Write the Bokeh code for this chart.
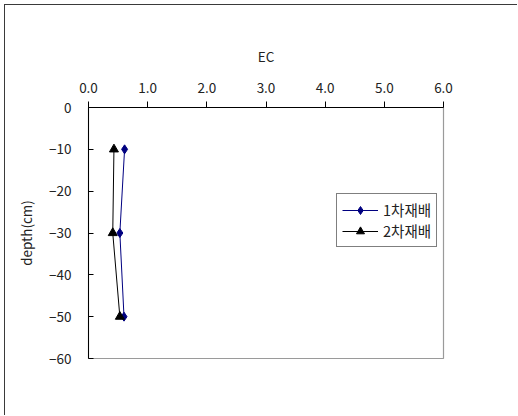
from bokeh.plotting import figure
from bokeh.models import (Range1d, FixedTicker, Legend, LegendItem, ColumnDataSource)
from bokeh.embed import file_html
from bokeh.resources import INLINE

# ---- data ----
depth = [-10, -30, -50]
ec_1 = [0.61, 0.53, 0.60]   # 1차재배
ec_2 = [0.43, 0.41, 0.53]   # 2차재배
series_names = ["1차재배", "2차재배"]
x_ticks = [0, 1, 2, 3, 4, 5, 6]
x_tick_labels = ["0.0", "1.0", "2.0", "3.0", "4.0", "5.0", "6.0"]
y_ticks = [0, -10, -20, -30, -40, -50, -60]
y_tick_labels = ["0", "\u221210", "\u221220", "\u221230", "\u221240", "\u221250", "\u221260"]
x_title = "EC"
y_title = "depth(cm)"

FONT = "Noto Sans CJK KR"

p = figure(width=513, height=411, output_backend="svg", toolbar_location=None,
           x_range=Range1d(0, 6), y_range=Range1d(-60, 0),
           x_axis_location="above",
           min_border_left=83, min_border_top=102, min_border_right=75,
           min_border_bottom=58)
p.margin = (4, 0, 0, 4)
p.styles = {"border-left": "1.5px solid #3a3a3a", "border-top": "1.5px solid #3a3a3a"}

p.grid.visible = False
p.outline_line_color = "#9a9a9a"
p.outline_line_width = 1.2
p.background_fill_color = "white"
p.border_fill_color = "white"

xa = p.xaxis[0]
xa.ticker = FixedTicker(ticks=x_ticks)
xa.major_label_overrides = {t: l for t, l in zip(x_ticks, x_tick_labels)}
xa.axis_label = x_title
xa.major_tick_out = 6
xa.major_tick_in = 0
xa.minor_tick_line_color = None
xa.axis_line_color = "black"
xa.major_tick_line_color = "black"
xa.major_label_standoff = 9
xa.axis_label_standoff = 14
xa.major_label_text_font = FONT
xa.major_label_text_font_size = "13.5px"
xa.major_label_text_color = "#222222"
xa.axis_label_text_font = FONT
xa.axis_label_text_font_size = "13.5px"
xa.axis_label_text_font_style = "normal"
xa.axis_label_text_color = "#222222"

ya = p.yaxis[0]
ya.ticker = FixedTicker(ticks=y_ticks)
ya.major_label_overrides = {t: l for t, l in zip(y_ticks, y_tick_labels)}
ya.axis_label = y_title
ya.major_tick_out = 0
ya.major_tick_in = 5
ya.minor_tick_line_color = None
ya.axis_line_color = "black"
ya.major_tick_line_color = "black"
ya.major_label_standoff = 17
ya.axis_label_standoff = 10
ya.major_label_text_font = FONT
ya.major_label_text_font_size = "13.5px"
ya.major_label_text_color = "#222222"
ya.axis_label_text_font = FONT
ya.axis_label_text_font_size = "13.5px"
ya.axis_label_text_font_style = "normal"
ya.axis_label_text_color = "#222222"

src1 = ColumnDataSource(dict(x=ec_1, y=depth))
src2 = ColumnDataSource(dict(x=ec_2, y=depth))

l1 = p.line("x", "y", source=src1, line_color="#000080", line_width=1)
m1 = p.scatter("x", "y", source=src1, marker="diamond", size=9,
               fill_color="#000080", line_color="#000080")
l2 = p.line("x", "y", source=src2, line_color="black", line_width=1)
m2 = p.scatter("x", "y", source=src2, marker="triangle", size=9,
               fill_color="black", line_color="black")

legend = Legend(items=[LegendItem(label=series_names[0], renderers=[l1, m1]),
                       LegendItem(label=series_names[1], renderers=[l2, m2])],
                location=(248, 111), orientation="vertical")
legend.border_line_color = "black"
legend.border_line_width = 1
legend.background_fill_alpha = 1
legend.padding = 5
legend.spacing = 0
legend.margin = 0
legend.glyph_width = 36
legend.glyph_height = 20
legend.label_standoff = 5
legend.label_text_font = FONT
legend.label_text_font_size = "14.5px"
legend.label_text_color = "#222222"
p.add_layout(legend, "center")

open("out.html", "w").write(file_html(p, INLINE))
